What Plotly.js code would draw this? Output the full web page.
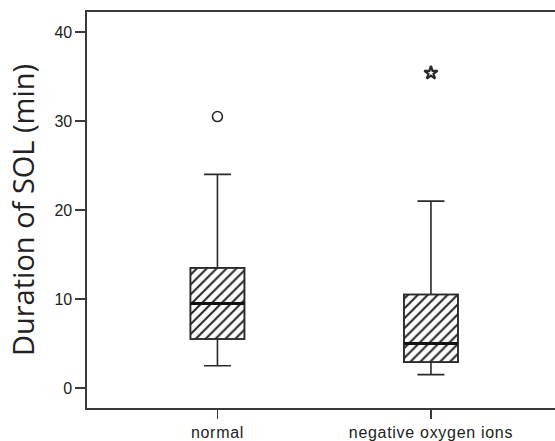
<!DOCTYPE html>
<html><head><meta charset="utf-8">
<script src="https://cdn.plot.ly/plotly-3.0.1.min.js"></script>
<style>html,body{margin:0;padding:0;background:#fff}#chart{width:555px;height:441px}
.xtick text{letter-spacing:0.7px}</style>
</head><body><div id="chart"></div>
<script>
const categories = ["normal", "negative oxygen ions"];
const q1 = [5.5, 2.9];
const median = [9.5, 5.0];
const q3 = [13.5, 10.5];
const lowerWhisker = [2.5, 1.5];
const upperWhisker = [24.0, 21.0];
const outliers = [30.5, null];       // circle (mild outlier)
const extremes = [null, 35.4];       // star (extreme outlier)
const yTicks = [0, 10, 20, 30, 40];

const xs = categories.map((c, i) => i);
const boxW = 0.253;
const lineCol = "#2a2a2a";
const axisCol = "#3a3a3a";

const traces = [];
// hatched box bodies
traces.push({
  type: "bar", x: xs, base: q1, y: q3.map((v, i) => v - q1[i]), width: boxW,
  marker: { color: "#ffffff", line: { color: lineCol, width: 1.5 },
            pattern: { shape: "/", fgcolor: "#222222", bgcolor: "#ffffff", size: 7, solidity: 0.28 } },
  hoverinfo: "skip", showlegend: false
});
// whiskers + outline via box trace
traces.push({
  type: "box", x: xs, q1: q1, median: median, q3: q3,
  lowerfence: lowerWhisker, upperfence: upperWhisker, width: boxW, whiskerwidth: 0.5,
  fillcolor: "rgba(0,0,0,0)", line: { color: lineCol, width: 1.6 }, boxpoints: false,
  hoverinfo: "skip", showlegend: false
});
// thick medians
xs.forEach((x, i) => {
  traces.push({
    type: "scatter", mode: "lines", x: [x - boxW / 2, x + boxW / 2], y: [median[i], median[i]],
    line: { color: "#111111", width: 3 }, hoverinfo: "skip", showlegend: false
  });
});
// outliers
traces.push({
  type: "scatter", mode: "markers", x: xs, y: outliers,
  marker: { symbol: "circle-open", size: 10, color: lineCol, line: { width: 1.6, color: lineCol } },
  showlegend: false
});
traces.push({
  type: "scatter", mode: "markers", x: xs, y: extremes,
  marker: { symbol: "star-open", size: 10, color: lineCol, line: { width: 2.2, color: lineCol } },
  showlegend: false
});

const layout = {
  width: 555, height: 441,
  margin: { l: 87, r: 0, t: 12, b: 33 },
  paper_bgcolor: "#fff", plot_bgcolor: "#fff",
  font: { family: "Liberation Sans, Arial, sans-serif", color: "#222" },
  showlegend: false,
  xaxis: {
    range: [-0.611, 1.581], tickvals: xs, ticktext: categories,
    showgrid: false, zeroline: false, showline: true, linecolor: axisCol, linewidth: 1.6,
    mirror: true, ticks: "outside", ticklen: 9, tickwidth: 1.5, tickcolor: axisCol,
    tickfont: { size: 16, color: "#222" }
  },
  yaxis: {
    range: [-2.25, 42.25], tickvals: yTicks, ticktext: yTicks.map(String),
    showgrid: false, zeroline: false, showline: true, linecolor: axisCol, linewidth: 1.6,
    ticks: "outside", ticklen: 10, tickwidth: 1.5, tickcolor: axisCol,
    tickfont: { size: 16, color: "#222" },
    title: { text: "Duration of SOL (min)", font: { size: 29, color: "#222", family: "Open Sans, sans-serif" }, standoff: 11 }
  }
};
Plotly.newPlot("chart", traces, layout, { staticPlot: true, displayModeBar: false });
</script></body></html>
